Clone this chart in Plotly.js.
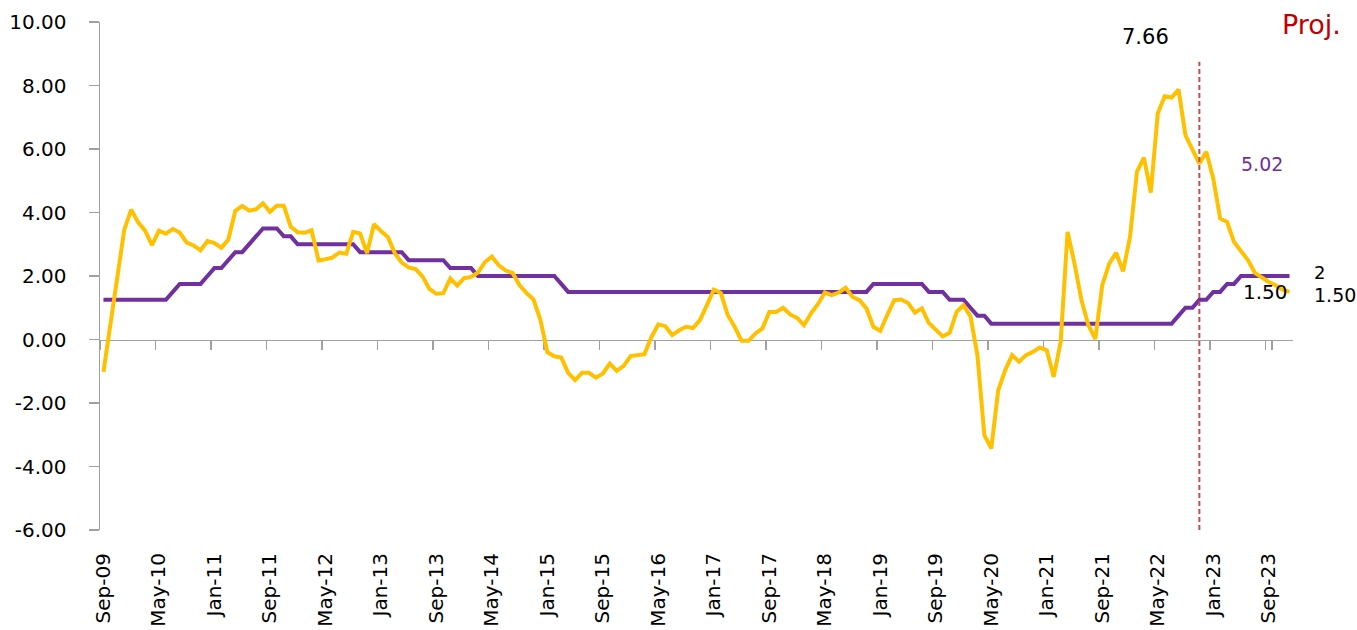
<!DOCTYPE html>
<html>
<head>
<meta charset="utf-8">
<script src="https://cdn.plot.ly/plotly-3.0.1.min.js"></script>
<style>html,body{margin:0;padding:0;background:#fff;}#chart{width:1357px;height:630px;}</style>
</head>
<body>
<div id="chart"></div>
<script>
// Monthly categories, Sep-09 .. Dec-23
const monthNames = ['Jan','Feb','Mar','Apr','May','Jun','Jul','Aug','Sep','Oct','Nov','Dec'];
const months = [];
for (let y = 2009; y <= 2023; y++) {
  for (let m = 0; m < 12; m++) {
    if (y === 2009 && m < 8) continue;
    months.push(monthNames[m] + '-' + String(y).slice(2));
  }
}

const tickLabels = ['Sep-09','May-10','Jan-11','Sep-11','May-12','Jan-13','Sep-13','May-14',
  'Jan-15','Sep-15','May-16','Jan-17','Sep-17','May-18','Jan-19','Sep-19','May-20','Jan-21',
  'Sep-21','May-22','Jan-23','Sep-23'];

const yTickVals = [-6, -4, -2, 0, 2, 4, 6, 8, 10];
const yTickText = ['-6.00','-4.00','-2.00','0.00','2.00','4.00','6.00','8.00','10.00'];

// Inflation (yellow)
const inflation = [
  -1.02, 0.52, 2.07, 3.46,
  4.09, 3.69, 3.43, 2.97, 3.43, 3.33, 3.48, 3.37, 3.05, 2.96, 2.81, 3.10,
  3.04, 2.89, 3.15, 4.05, 4.21, 4.06, 4.10, 4.29, 4.02, 4.21, 4.21, 3.55,
  3.38, 3.36, 3.44, 2.49, 2.53, 2.58, 2.74, 2.70, 3.39, 3.34, 2.72, 3.63,
  3.42, 3.23, 2.72, 2.42, 2.27, 2.22, 1.99, 1.59, 1.44, 1.46, 1.92, 1.70,
  1.93, 1.97, 2.11, 2.44, 2.61, 2.34, 2.17, 2.09, 1.71, 1.46, 1.26, 0.61,
  -0.40, -0.53, -0.57, -1.05, -1.28, -1.05, -1.05, -1.20, -1.07, -0.76, -0.99, -0.83,
  -0.52, -0.50, -0.46, 0.08, 0.48, 0.42, 0.14, 0.29, 0.40, 0.36, 0.61, 1.08,
  1.57, 1.47, 0.77, 0.40, -0.04, -0.04, 0.19, 0.35, 0.87, 0.87, 1.00, 0.79,
  0.68, 0.45, 0.82, 1.11, 1.48, 1.40, 1.48, 1.63, 1.34, 1.24, 0.98, 0.40,
  0.27, 0.77, 1.24, 1.26, 1.15, 0.85, 0.98, 0.52, 0.32, 0.10, 0.21, 0.87,
  1.08, 0.73, -0.49, -3.01, -3.43, -1.60, -0.97, -0.49, -0.70, -0.49, -0.39, -0.25,
  -0.34, -1.18, -0.08, 3.39, 2.39, 1.24, 0.45, 0.02, 1.71, 2.39, 2.73, 2.15,
  3.23, 5.28, 5.73, 4.63, 7.12, 7.66, 7.62, 7.87, 6.43, 5.96, 5.54, 5.91,
  5.07, 3.81, 3.70, 3.07, 2.79, 2.50, 2.10, 1.95, 1.81, 1.71, 1.57, 1.50
];

// Policy rate (purple)
const policyRate = [
  1.25, 1.25, 1.25, 1.25,
  1.25, 1.25, 1.25, 1.25, 1.25, 1.25, 1.5, 1.75, 1.75, 1.75, 1.75, 2.0,
  2.25, 2.25, 2.5, 2.75, 2.75, 3.0, 3.25, 3.5, 3.5, 3.5, 3.25, 3.25,
  3.0, 3.0, 3.0, 3.0, 3.0, 3.0, 3.0, 3.0, 3.0, 2.75, 2.75, 2.75,
  2.75, 2.75, 2.75, 2.75, 2.5, 2.5, 2.5, 2.5, 2.5, 2.5, 2.25, 2.25,
  2.25, 2.25, 2.0, 2.0, 2.0, 2.0, 2.0, 2.0, 2.0, 2.0, 2.0, 2.0,
  2.0, 2.0, 1.75, 1.5, 1.5, 1.5, 1.5, 1.5, 1.5, 1.5, 1.5, 1.5,
  1.5, 1.5, 1.5, 1.5, 1.5, 1.5, 1.5, 1.5, 1.5, 1.5, 1.5, 1.5,
  1.5, 1.5, 1.5, 1.5, 1.5, 1.5, 1.5, 1.5, 1.5, 1.5, 1.5, 1.5,
  1.5, 1.5, 1.5, 1.5, 1.5, 1.5, 1.5, 1.5, 1.5, 1.5, 1.5, 1.75,
  1.75, 1.75, 1.75, 1.75, 1.75, 1.75, 1.75, 1.5, 1.5, 1.5, 1.25, 1.25,
  1.25, 1.0, 0.75, 0.75, 0.5, 0.5, 0.5, 0.5, 0.5, 0.5, 0.5, 0.5,
  0.5, 0.5, 0.5, 0.5, 0.5, 0.5, 0.5, 0.5, 0.5, 0.5, 0.5, 0.5,
  0.5, 0.5, 0.5, 0.5, 0.5, 0.5, 0.5, 0.75, 1.0, 1.0, 1.25, 1.25,
  1.5, 1.5, 1.75, 1.75, 2.0, 2.0, 2.0, 2.0, 2.0, 2.0, 2.0, 2.0
];

const projMonth = 'Nov-22';
const projLineTop = 8.75;

const YELLOW = '#FFC000';
const PURPLE = '#7030A0';
const AXIS = '#A0A0A0';
const FONT = 'DejaVu Sans, sans-serif';

const traces = [
  { x: months, y: policyRate, type: 'scatter', mode: 'lines', xaxis: 'x', yaxis: 'y',
    line: { color: PURPLE, width: 4 }, hoverinfo: 'skip' },
  { x: months, y: inflation, type: 'scatter', mode: 'lines', xaxis: 'x2', yaxis: 'y',
    line: { color: YELLOW, width: 4 }, hoverinfo: 'skip' }
];

const projIdx = months.indexOf(projMonth);

function note(xref, yref, x, y, text, size, color) {
  return { xref, yref, x, y, text, showarrow: false, xanchor: 'center', yanchor: 'middle',
    borderpad: 0, font: { family: FONT, size, color } };
}

const layout = {
  width: 1357, height: 630,
  margin: { l: 100, r: 64, t: 22, b: 100 },
  paper_bgcolor: '#fff', plot_bgcolor: '#fff',
  showlegend: false,
  font: { family: FONT, color: '#000', size: 20 },
  xaxis: {
    type: 'category', categoryorder: 'array', categoryarray: months,
    range: [-0.5, months.length - 0.5],
    tickmode: 'array', tickvals: tickLabels, ticktext: tickLabels,
    ticks: '', showline: false, showgrid: false, zeroline: false,
    tickangle: -90, tickfont: { family: FONT, size: 20, color: '#000' },
    ticklabelstandoff: 18, anchor: 'y', fixedrange: true
  },
  xaxis2: {
    type: 'category', categoryorder: 'array', categoryarray: months,
    overlaying: 'x', anchor: 'free', position: 6 / 16,
    range: [-0.5, months.length - 0.5],
    tickmode: 'array', tickvals: tickLabels, ticktext: tickLabels,
    tickson: 'boundaries', ticks: 'outside', ticklen: 9, tickwidth: 1.5, tickcolor: AXIS,
    showticklabels: false, showline: true, linecolor: AXIS, linewidth: 1.5,
    showgrid: false, zeroline: false, layer: 'below traces', fixedrange: true
  },
  yaxis: {
    range: [-6, 10], tickmode: 'array', tickvals: yTickVals, ticktext: yTickText,
    ticks: 'outside', ticklen: 10, tickwidth: 1.5, tickcolor: AXIS,
    showline: true, linecolor: AXIS, linewidth: 1.5,
    showgrid: false, zeroline: false,
    tickfont: { family: FONT, size: 20, color: '#000' },
    ticklabelstandoff: 18, fixedrange: true
  },
  shapes: [
    { type: 'line', xref: 'x', yref: 'y', x0: projIdx, x1: projIdx, y0: -6, y1: projLineTop,
      line: { color: '#C0504D', width: 2, dash: '5px,3px' }, layer: 'above' }
  ],
  annotations: [
    note('x', 'y', 150.2, 9.52, '7.66', 21, '#000'),
    note('paper', 'paper', 1.0157, 0.996, 'Proj.', 27, '#C00000'),
    note('x', 'y', 167.0, 5.52, '5.02', 19, PURPLE),
    note('paper', 'paper', 1.022, 0.506, '2', 18, '#000'),
    note('x', 'y', 167.6, 1.50, '1.50', 20, '#000'),
    note('paper', 'paper', 1.0352, 0.463, '1.50', 19, '#000')
  ]
};

Plotly.newPlot('chart', traces, layout, { staticPlot: true, displayModeBar: false });
</script>
</body>
</html>
